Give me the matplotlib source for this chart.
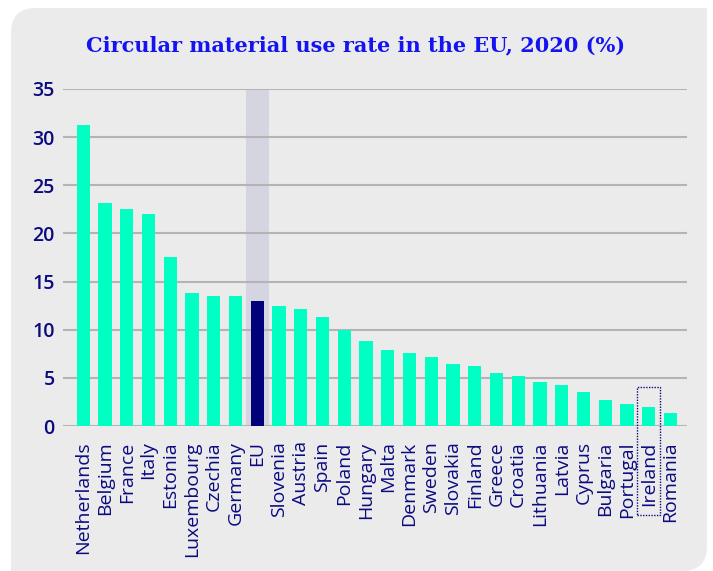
import matplotlib
matplotlib.use("Agg")
import matplotlib.pyplot as plt
from matplotlib.patches import FancyBboxPatch, Rectangle

countries = ["Netherlands", "Belgium", "France", "Italy", "Estonia", "Luxembourg",
             "Czechia", "Germany", "EU", "Slovenia", "Austria", "Spain", "Poland",
             "Hungary", "Malta", "Denmark", "Sweden", "Slovakia", "Finland", "Greece",
             "Croatia", "Lithuania", "Latvia", "Cyprus", "Bulgaria", "Portugal",
             "Ireland", "Romania"]
values = [31.3, 23.2, 22.5, 22.0, 17.6, 13.8, 13.5, 13.5, 13.0, 12.5, 12.2, 11.3,
          10.0, 8.8, 7.9, 7.6, 7.2, 6.4, 6.2, 5.5, 5.2, 4.6, 4.3, 3.5, 2.7, 2.3,
          2.0, 1.4]
yticks = [0, 5, 10, 15, 20, 25, 30, 35]
highlight = "EU"
outlined = "Ireland"

W, H = 713, 571
fig = plt.figure(figsize=(W / 100, H / 100), dpi=100)
fig.patch.set_facecolor("white")

grey = "#ebebeb"
# panel with rounded top-left and bottom-right corners
px0, py0, px1, py1 = 11, 8, 707, 571
panel = FancyBboxPatch((px0 / W, 1 - py1 / H), (px1 - px0) / W, (py1 - py0) / H,
                       boxstyle="round,pad=0,rounding_size=0.035",
                       transform=fig.transFigure, facecolor=grey,
                       edgecolor="none", zorder=-10, mutation_aspect=W / H)
fig.patches.append(panel)
# square off top-right and bottom-left corners
fig.patches.append(Rectangle(((px1 - 40) / W, 1 - (py0 + 40) / H), 40 / W, 40 / H,
                             transform=fig.transFigure, facecolor=grey,
                             edgecolor="none", zorder=-9))
fig.patches.append(Rectangle((px0 / W, 1 - py1 / H), 40 / W, 40 / H,
                             transform=fig.transFigure, facecolor=grey,
                             edgecolor="none", zorder=-9))

navy = "#0b0b80"
teal = "#00ffc3"
eu_col = "#00007a"

ax = fig.add_axes([63 / W, 1 - 426 / H, (687 - 63) / W, (426 - 89) / H])
ax.set_zorder(1)
ax.set_facecolor("none")

x = list(range(len(countries)))
colors = [eu_col if c == highlight else teal for c in countries]

ieu = countries.index(highlight)
ax.axvspan(ieu - 0.53, ieu + 0.53, color="#d5d5e1", zorder=0.5, lw=0)

ax.bar(x, values, width=0.61, color=colors, zorder=3)

ax.set_ylim(0, 35)
ax.set_xlim(-0.93, len(countries) - 1 + 0.76)
ax.set_yticks(yticks)
ax.set_yticklabels([str(t) for t in yticks], fontsize=14, color=navy,
                   family="Open Sans", fontweight="semibold")
ax.set_xticks(x)
ax.set_xticklabels(countries, rotation=90, fontsize=14, color=navy,
                   family="Open Sans")
ax.tick_params(axis="x", length=0, pad=11)
ax.tick_params(axis="y", length=0, pad=6)
ax.grid(axis="y", color="#b4b4b4", linewidth=1.5, zorder=1)
for gl in ax.get_ygridlines():
    gl.set_zorder(1)
for s in ax.spines.values():
    s.set_visible(False)

# dotted box around Ireland
iir = countries.index(outlined)
rect = Rectangle((iir - 0.52, -9.2), 1.04, 9.2 + 4.1, transform=ax.transData,
                 fill=False, edgecolor=navy, linestyle=(0, (1, 1)), lw=1.0,
                 clip_on=False, zorder=4)
ax.add_patch(rect)

fig.text(356 / W, 1 - 45 / H, "Circular material use rate in the EU, 2020 (%)",
         ha="center", va="center", fontsize=15, color="#1414f0",
         family="DejaVu Serif", fontweight="bold")

fig.savefig("out.png", dpi=100, facecolor="white")
